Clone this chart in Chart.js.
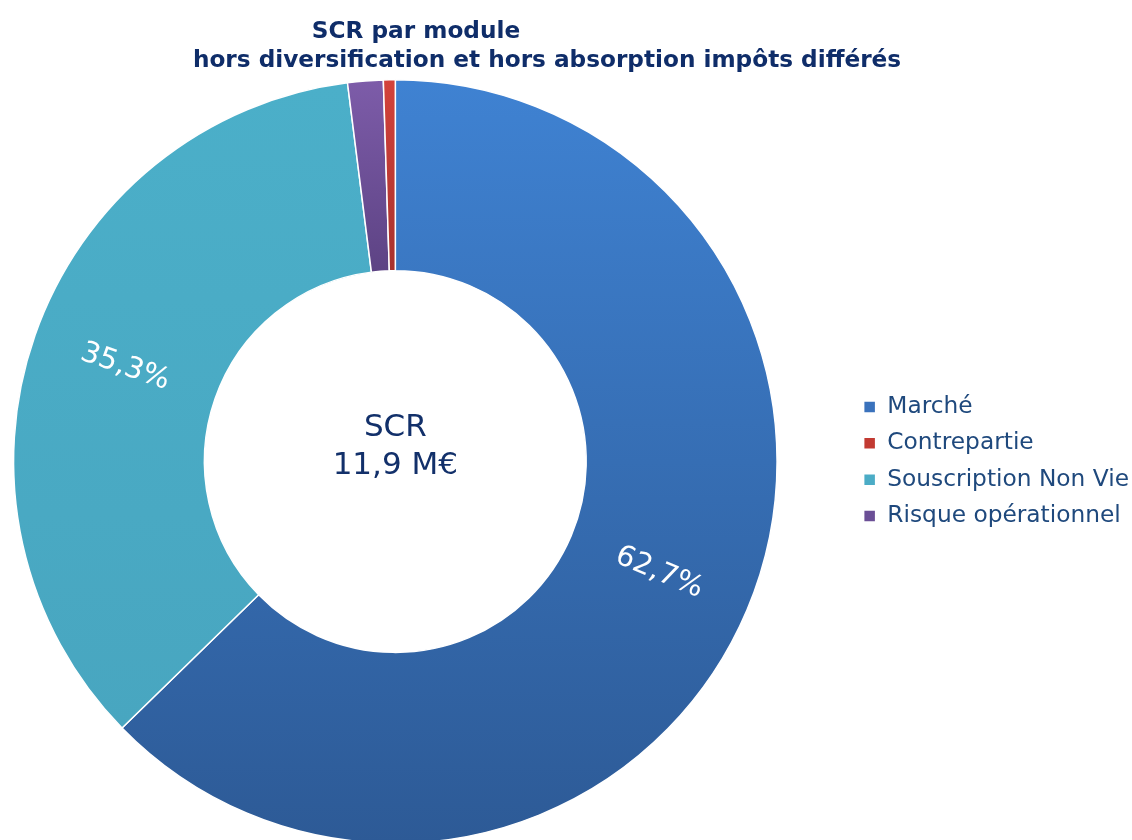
<!DOCTYPE html>
<html>
<head>
<meta charset="utf-8">
<script src="https://cdn.jsdelivr.net/npm/chart.js@4.4.1/dist/chart.umd.min.js"></script>
<style>
  html, body { margin: 0; padding: 0; background: #ffffff; overflow: hidden; }
  #wrap { width: 1132px; height: 840px; position: relative; overflow: hidden; }
  #c { position: absolute; left: -60px; top: 0; }
</style>
</head>
<body>
<div id="wrap"><canvas id="c" width="1203" height="846"></canvas></div>
<script>
// ---- Data ----
const categories = ['Marché', 'Souscription Non Vie', 'Risque opérationnel', 'Contrepartie'];
const shares = [62.7, 35.3, 1.5, 0.5];
const legendOrder = ['Marché', 'Contrepartie', 'Souscription Non Vie', 'Risque opérationnel'];
const baseColors = ['#3A72BC', '#4BACC6', '#6B4F96', '#C23A32'];
const gradTop = ['#3F82D2', '#4BAFC9', '#7D5CA9', '#D3423B'];
const gradBottom = ['#2D5A96', '#48A6C0', '#5D4384', '#A8322E'];
const titleLines = ['SCR par module', 'hors diversification et hors absorption impôts différés'];
const centerLines = ['SCR', '11,9 M€'];

const FONT = '"DejaVu Sans", Verdana, sans-serif';
const X_OFFSET = 60; // canvas is shifted left by this amount on the page

const gradientPlugin = {
  id: 'sliceGradient',
  beforeDatasetsDraw(chart) {
    const ctx = chart.ctx;
    const meta = chart.getDatasetMeta(0);
    meta.data.forEach((arc, i) => {
      const p = arc.getProps(['x', 'y', 'startAngle', 'endAngle', 'innerRadius', 'outerRadius'], true);
      let minY = Infinity, maxY = -Infinity;
      const steps = 60;
      for (let k = 0; k <= steps; k++) {
        const a = p.startAngle + (p.endAngle - p.startAngle) * k / steps;
        for (const r of [p.innerRadius, p.outerRadius]) {
          const y = p.y + r * Math.sin(a);
          if (y < minY) minY = y;
          if (y > maxY) maxY = y;
        }
      }
      const g = ctx.createLinearGradient(0, minY, 0, maxY);
      g.addColorStop(0, gradTop[i]);
      g.addColorStop(1, gradBottom[i]);
      arc.options = Object.assign({}, arc.options, { backgroundColor: g });
    });
  }
};

const labelPlugin = {
  id: 'sliceLabels',
  afterDatasetsDraw(chart) {
    const ctx = chart.ctx;
    const meta = chart.getDatasetMeta(0);
    const data = chart.data.datasets[0].data;
    ctx.save();
    ctx.fillStyle = '#ffffff';
    ctx.font = '29px ' + FONT;
    ctx.textAlign = 'center';
    ctx.textBaseline = 'middle';
    meta.data.forEach((arc, i) => {
      if (data[i] < 5) return;
      const c = arc.getCenterPoint();
      const p = arc.getProps(['startAngle', 'endAngle'], true);
      let ang = (p.startAngle + p.endAngle) / 2;
      if (Math.cos(ang) < 0) ang += Math.PI;
      ctx.save();
      ctx.translate(c.x, c.y);
      ctx.rotate(ang);
      ctx.fillText(data[i].toFixed(1).replace('.', ',') + '%', 0, 0);
      ctx.restore();
    });
    // centre text
    const a0 = meta.data[0];
    ctx.fillStyle = '#12306A';
    ctx.font = '31px ' + FONT;
    ctx.fillText(centerLines[0], a0.x, a0.y - 33.5);
    ctx.fillText(centerLines[1], a0.x, a0.y + 4.5);
    // title
    ctx.fillStyle = '#0F2D69';
    ctx.font = 'bold 23.2px ' + FONT;
    ctx.textBaseline = 'alphabetic';
    ctx.fillText(titleLines[0], 416 + X_OFFSET, 38);
    ctx.fillText(titleLines[1], 547 + X_OFFSET, 67);
    ctx.restore();
  }
};

new Chart(document.getElementById('c'), {
  type: 'doughnut',
  data: {
    labels: categories,
    datasets: [{
      data: shares,
      backgroundColor: baseColors,
      borderColor: '#ffffff',
      borderWidth: 1.5
    }]
  },
  options: {
    responsive: false,
    animation: false,
    cutout: '50%',
    layout: { padding: { top: 79, bottom: 2, left: 0, right: 4 } },
    plugins: {
      tooltip: { enabled: false },
      legend: {
        position: 'right',
        labels: {
          color: '#1F497D',
          font: { family: FONT, size: 23.3 },
          boxWidth: 12,
          boxHeight: 12,
          padding: 13,
          sort: (a, b) => legendOrder.indexOf(a.text) - legendOrder.indexOf(b.text)
        }
      }
    }
  },
  plugins: [gradientPlugin, labelPlugin]
});
</script>
</body>
</html>
